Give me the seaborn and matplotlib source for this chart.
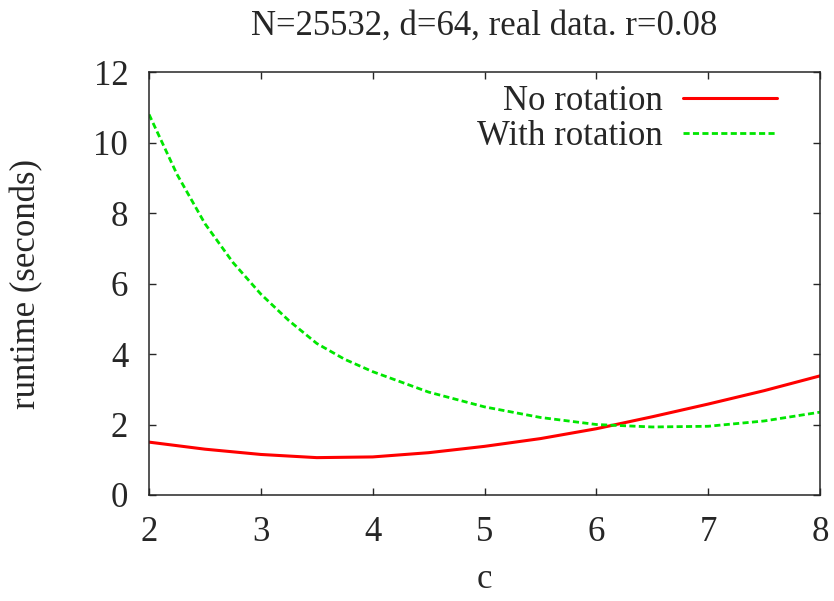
import pandas as pd
import seaborn as sns
import matplotlib.pyplot as plt

# values
c_red = [2.0, 2.5, 3.0, 3.5, 4.0, 4.5, 5.0, 5.5, 6.0, 6.5, 7.0, 7.5, 8.0]
no_rotation = [1.5, 1.3, 1.15, 1.06, 1.08, 1.2, 1.38, 1.6, 1.88, 2.22, 2.58, 2.96, 3.38]

c_green = [2.0, 2.25, 2.5, 2.75, 3.0, 3.25, 3.5, 3.75, 4.0, 4.5, 5.0, 5.5, 6.0, 6.5, 7.0, 7.5, 8.0]
with_rotation = [10.8, 9.1, 7.7, 6.6, 5.7, 4.95, 4.3, 3.85, 3.5, 2.92, 2.5, 2.2, 2.0, 1.93, 1.95, 2.1, 2.35]

x_ticks = [2, 3, 4, 5, 6, 7, 8]
y_ticks = [0, 2, 4, 6, 8, 10, 12]

df_red = pd.DataFrame({'c': c_red, 'runtime': no_rotation})
df_green = pd.DataFrame({'c': c_green, 'runtime': with_rotation})

sns.set_style("ticks")
plt.rcParams['font.family'] = ['Liberation Serif', 'DejaVu Serif']
plt.rcParams['xtick.direction'] = 'in'
plt.rcParams['ytick.direction'] = 'in'

fs = 25
fig = plt.figure(figsize=(8.34, 6.01), dpi=100)
ax = fig.add_axes([0.1787, 0.1764, 0.8045, 0.7036])

sns.lineplot(data=df_red, x='c', y='runtime', ax=ax, color='#ff0000', lw=2.2, label='No rotation')
sns.lineplot(data=df_green, x='c', y='runtime', ax=ax, color='#00e600', lw=2,
             label='With rotation')
ax.lines[1].set_dashes([2.2, 1.2])

ax.set_xlim(2, 8)
ax.set_ylim(0, 12)
ax.set_xticks(x_ticks)
ax.set_yticks(y_ticks)
ax.tick_params(labelsize=fs, length=5, width=1, top=True, right=True, pad=15)
for s in ax.spines.values():
    s.set_linewidth(1.1)

ax.set_xlabel('c', fontsize=fs, labelpad=10)
ax.set_ylabel('runtime (seconds)', fontsize=fs, labelpad=36)
ax.set_title('N=25532, d=64, real data. r=0.08', fontsize=fs, pad=27)

leg = ax.legend(loc='upper right', bbox_to_anchor=(0.957, 1.002), borderaxespad=0,
                frameon=False, markerfirst=False, fontsize=fs,
                handlelength=2.7, handletextpad=0.6, labelspacing=0.05)
for t in leg.get_texts():
    t.set_ha('right')

fig.savefig('out.png', dpi=100)
